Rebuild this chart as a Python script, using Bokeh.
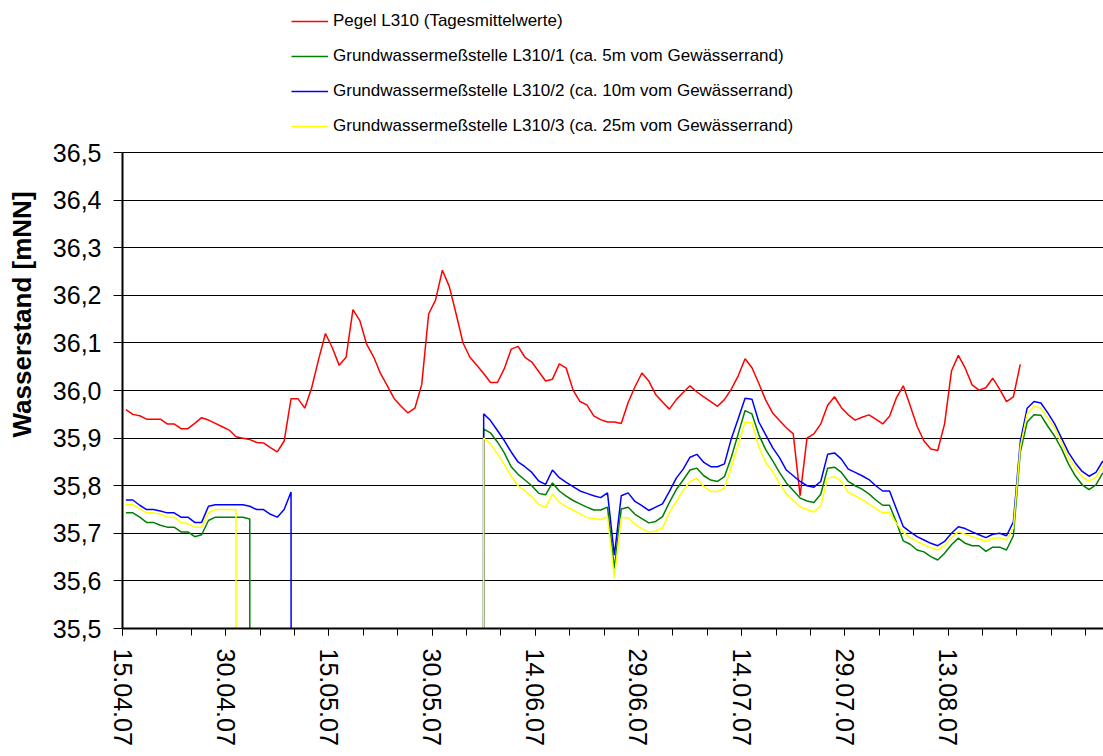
import pandas as pd
from bokeh.plotting import figure
from bokeh.models import (Range1d, FixedTicker, CustomJSTickFormatter, Legend,
                          LegendItem, ColumnDataSource)
from bokeh.embed import file_html
from bokeh.resources import INLINE

# Daily values starting 15.04.2007 (0 = no reading, plotted off-scale as in the original)
pegel = [
    35.960, 35.950, 35.947, 35.940, 35.940, 35.940, 35.930, 35.930, 35.920, 35.920,
    35.931, 35.943, 35.938, 35.931, 35.924, 35.917, 35.903, 35.900, 35.897, 35.891,
    35.890, 35.880, 35.871, 35.894, 35.983, 35.983, 35.963, 36.006, 36.065, 36.120,
    36.090, 36.053, 36.070, 36.170, 36.147, 36.097, 36.071, 36.036, 36.010, 35.983,
    35.967, 35.953, 35.963, 36.013, 36.161, 36.190, 36.253, 36.219, 36.161, 36.100,
    36.070, 36.053, 36.036, 36.017, 36.017, 36.046, 36.087, 36.093, 36.070, 36.060,
    36.040, 36.020, 36.024, 36.056, 36.047, 36.001, 35.977, 35.970, 35.947, 35.939,
    35.934, 35.934, 35.931, 35.975, 36.008, 36.037, 36.020, 35.992, 35.976, 35.961,
    35.981, 35.996, 36.010, 35.997, 35.987, 35.977, 35.967, 35.981, 36.003, 36.031,
    36.067, 36.048, 36.015, 35.980, 35.953, 35.937, 35.922, 35.909, 35.779, 35.900,
    35.909, 35.930, 35.969, 35.987, 35.964, 35.949, 35.938, 35.944, 35.949, 35.940,
    35.930, 35.946, 35.985, 36.010, 35.968, 35.925, 35.894, 35.877, 35.874, 35.930,
    36.041, 36.074, 36.047, 36.012, 36.001, 36.006, 36.026, 36.003, 35.977, 35.987,
    36.055,
]

gw1 = [
    35.743, 35.743, 35.734, 35.723, 35.723, 35.717, 35.713, 35.713, 35.703, 35.703,
    35.693, 35.697, 35.727, 35.734, 35.734, 35.734, 35.734, 35.734, 35.730, 0.0,
    0.0, 0.0, 0.0, 0.0, 0.0, 0.0, 0.0, 0.0, 0.0, 0.0,
    0.0, 0.0, 0.0, 0.0, 0.0, 0.0, 0.0, 0.0, 0.0, 0.0,
    0.0, 0.0, 0.0, 0.0, 0.0, 0.0, 0.0, 0.0, 0.0, 0.0,
    0.0, 0.0, 35.919, 35.911, 35.892, 35.869, 35.840, 35.824, 35.812, 35.800,
    35.784, 35.781, 35.806, 35.789, 35.778, 35.769, 35.762, 35.755, 35.749, 35.749,
    35.755, 35.626, 35.751, 35.755, 35.740, 35.731, 35.722, 35.725, 35.735, 35.765,
    35.792, 35.812, 35.833, 35.837, 35.821, 35.812, 35.809, 35.819, 35.860, 35.909,
    35.958, 35.951, 35.907, 35.876, 35.853, 35.828, 35.806, 35.790, 35.774, 35.768,
    35.765, 35.782, 35.837, 35.839, 35.828, 35.809, 35.800, 35.793, 35.783, 35.770,
    35.759, 35.759, 35.723, 35.684, 35.677, 35.665, 35.661, 35.651, 35.644, 35.658,
    35.676, 35.690, 35.679, 35.674, 35.674, 35.662, 35.671, 35.671, 35.665, 35.695,
    35.870, 35.934, 35.949, 35.948, 35.925, 35.904, 35.878, 35.846, 35.821, 35.802,
    35.792, 35.802, 35.827,
]

gw2 = [
    35.770, 35.770, 35.759, 35.750, 35.750, 35.747, 35.743, 35.743, 35.734, 35.734,
    35.723, 35.723, 35.757, 35.760, 35.760, 35.760, 35.760, 35.760, 35.757, 35.750,
    35.750, 35.740, 35.734, 35.750, 35.787, 0.0, 0.0, 0.0, 0.0, 0.0,
    0.0, 0.0, 0.0, 0.0, 0.0, 0.0, 0.0, 0.0, 0.0, 0.0,
    0.0, 0.0, 0.0, 0.0, 0.0, 0.0, 0.0, 0.0, 0.0, 0.0,
    0.0, 0.0, 35.951, 35.937, 35.916, 35.895, 35.871, 35.850, 35.840, 35.828,
    35.810, 35.803, 35.833, 35.817, 35.807, 35.798, 35.789, 35.784, 35.779, 35.775,
    35.785, 35.654, 35.779, 35.785, 35.767, 35.758, 35.748, 35.755, 35.762, 35.788,
    35.816, 35.835, 35.860, 35.866, 35.849, 35.840, 35.840, 35.846, 35.899, 35.941,
    35.984, 35.982, 35.934, 35.907, 35.880, 35.859, 35.833, 35.821, 35.809, 35.800,
    35.797, 35.809, 35.866, 35.869, 35.856, 35.835, 35.828, 35.821, 35.813, 35.800,
    35.789, 35.789, 35.751, 35.714, 35.703, 35.693, 35.686, 35.679, 35.674, 35.683,
    35.700, 35.714, 35.710, 35.703, 35.697, 35.691, 35.698, 35.700, 35.695, 35.724,
    35.892, 35.963, 35.977, 35.974, 35.953, 35.930, 35.900, 35.870, 35.848, 35.830,
    35.820, 35.828, 35.852,
]

gw3 = [
    35.760, 35.760, 35.752, 35.743, 35.743, 35.740, 35.734, 35.734, 35.723, 35.720,
    35.713, 35.713, 35.743, 35.750, 35.750, 35.750, 35.750, 0.0, 0.0, 0.0,
    0.0, 0.0, 0.0, 0.0, 0.0, 0.0, 0.0, 0.0, 0.0, 0.0,
    0.0, 0.0, 0.0, 0.0, 0.0, 0.0, 0.0, 0.0, 0.0, 0.0,
    0.0, 0.0, 0.0, 0.0, 0.0, 0.0, 0.0, 0.0, 0.0, 0.0,
    0.0, 0.0, 35.900, 35.888, 35.867, 35.845, 35.820, 35.800, 35.789, 35.777,
    35.761, 35.754, 35.783, 35.765, 35.756, 35.749, 35.741, 35.733, 35.731, 35.729,
    35.735, 35.607, 35.733, 35.733, 35.719, 35.710, 35.702, 35.705, 35.711, 35.744,
    35.767, 35.790, 35.809, 35.816, 35.798, 35.788, 35.788, 35.795, 35.839, 35.885,
    35.934, 35.932, 35.882, 35.849, 35.830, 35.805, 35.783, 35.769, 35.756, 35.750,
    35.745, 35.758, 35.816, 35.819, 35.809, 35.786, 35.779, 35.771, 35.762, 35.752,
    35.743, 35.743, 35.721, 35.702, 35.691, 35.683, 35.676, 35.670, 35.665, 35.674,
    35.691, 35.703, 35.698, 35.693, 35.688, 35.683, 35.689, 35.691, 35.686, 35.711,
    35.881, 35.951, 35.967, 35.963, 35.942, 35.921, 35.890, 35.860, 35.837, 35.819,
    35.809, 35.818, 35.841,
]

labels = [
    "Pegel L310 (Tagesmittelwerte)",
    "Grundwassermeßstelle L310/1 (ca. 5m vom Gewässerrand)",
    "Grundwassermeßstelle L310/2 (ca. 10m vom Gewässerrand)",
    "Grundwassermeßstelle L310/3 (ca. 25m vom Gewässerrand)",
]
colors = ["#FF0000", "#008000", "#0000FF", "#FFFF00"]
label_days = [0, 15, 30, 45, 60, 75, 90, 105, 120]   # 15.04.07 ... 13.08.07
minor_days = list(range(0, 145, 5))
y_ticks = [round(35.5 + 0.1 * i, 1) for i in range(11)]
Y_MIN, Y_MAX = 35.5, 36.5

start = pd.Timestamp("2007-04-15")
epoch = pd.Timestamp("1970-01-01")


def ms(ts):
    return (ts - epoch).total_seconds() * 1000.0


def day_dates(n):
    return [start + pd.Timedelta(days=i, hours=12) for i in range(n)]


FONT = "Liberation Sans"
H, BOTTOM = 748, 119
FRAME_H = H - BOTTOM
PX_PER_UNIT = 476.6   # pixels per metre on the value axis
y_top = Y_MIN + FRAME_H / PX_PER_UNIT   # room above 36,5 for the legend

p = figure(width=1103, height=H, x_axis_type="datetime",
           output_backend="svg", toolbar_location=None,
           x_range=Range1d(ms(start), ms(start + pd.Timedelta(days=142.6))),
           y_range=Range1d(Y_MIN, y_top),
           min_border_left=122, min_border_right=0,
           min_border_top=0, min_border_bottom=BOTTOM)
p.outline_line_color = None
p.background_fill_color = "white"
p.border_fill_color = "white"

renderers = []
for vals, col in zip([pegel, gw1, gw2, gw3], colors):
    src = ColumnDataSource(dict(x=day_dates(len(vals)), y=vals))
    r = p.line("x", "y", source=src, line_color=col, line_width=1.5)
    renderers.append(r)

# axes
xa = p.xaxis[0]
xa.ticker = FixedTicker(ticks=[ms(start + pd.Timedelta(days=d)) for d in label_days],
                        minor_ticks=[ms(start + pd.Timedelta(days=d)) for d in minor_days])
xa.formatter = CustomJSTickFormatter(code="""
const d = new Date(tick);
const dd = String(d.getUTCDate()).padStart(2, '0');
const mm = String(d.getUTCMonth() + 1).padStart(2, '0');
const yy = String(d.getUTCFullYear()).slice(2);
return dd + '.' + mm + '.' + yy;
""")
xa.major_label_orientation = "vertical"
xa.major_label_text_font = FONT
xa.major_label_text_font_size = "25px"
xa.major_label_text_color = "black"
xa.major_label_standoff = 13
xa.major_tick_out = 7
xa.major_tick_in = 0
xa.minor_tick_out = 7
xa.minor_tick_in = 0
xa.axis_line_width = 2
xa.axis_line_color = "black"
xa.major_tick_line_color = "black"
xa.minor_tick_line_color = "black"

ya = p.yaxis[0]
ya.bounds = (Y_MIN, Y_MAX)
ya.ticker = FixedTicker(ticks=y_ticks)
ya.formatter = CustomJSTickFormatter(code="return tick.toFixed(1).replace('.', ',');")
ya.major_label_text_font = FONT
ya.major_label_text_font_size = "25px"
ya.major_label_text_color = "black"
ya.major_label_standoff = 12
ya.major_tick_out = 9
ya.major_tick_in = 0
ya.minor_tick_out = 0
ya.minor_tick_in = 0
ya.axis_line_width = 2
ya.axis_line_color = "black"
ya.major_tick_line_color = "black"
ya.axis_label = "Wasserstand [mNN]"
ya.axis_label_text_font = FONT
ya.axis_label_text_font_size = "26px"
ya.axis_label_text_font_style = "bold"
ya.axis_label_text_color = "black"
ya.axis_label_standoff = 13

p.xgrid.grid_line_color = None
p.ygrid.ticker = FixedTicker(ticks=y_ticks)
p.ygrid.bounds = (Y_MIN, Y_MAX)
p.ygrid.grid_line_color = "black"
p.ygrid.grid_line_width = 1

legend = Legend(
    items=[LegendItem(label=l, renderers=[r]) for l, r in zip(labels, renderers)],
    location=(169, 489.8), orientation="vertical",
    label_text_font=FONT, label_text_font_size="17px",
    label_text_color="black",
    glyph_width=37, glyph_height=24, label_height=24, spacing=11,
    padding=0, margin=0, label_standoff=5,
    border_line_color=None, background_fill_alpha=0,
)
p.add_layout(legend)

open("out.html", "w").write(file_html(p, INLINE))
